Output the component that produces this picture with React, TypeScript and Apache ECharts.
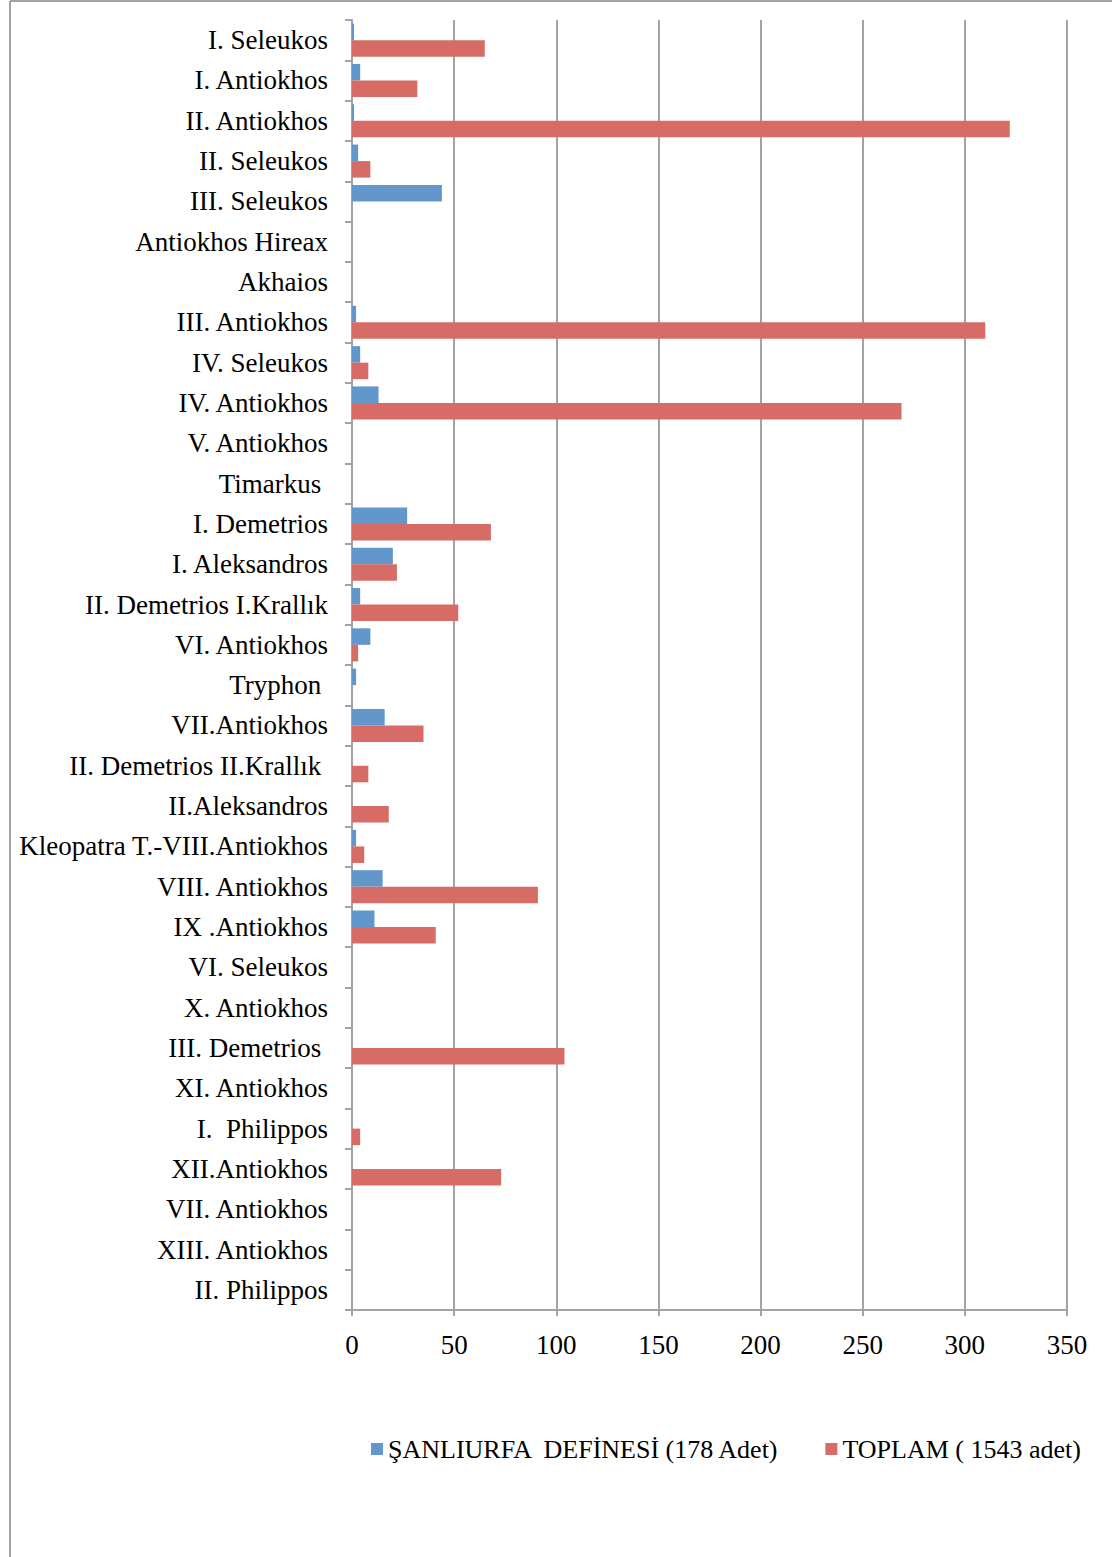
import React, { useEffect, useRef } from "react";
import * as echarts from "echarts";

const categories = [
  "I. Seleukos",
  "I. Antiokhos",
  "II. Antiokhos",
  "II. Seleukos",
  "III. Seleukos",
  "Antiokhos Hireax",
  "Akhaios",
  "III. Antiokhos",
  "IV. Seleukos",
  "IV. Antiokhos",
  "V. Antiokhos",
  "Timarkus ",
  "I. Demetrios",
  "I. Aleksandros",
  "II. Demetrios I.Krallık",
  "VI. Antiokhos",
  "Tryphon ",
  "VII.Antiokhos",
  "II. Demetrios II.Krallık ",
  "II.Aleksandros",
  "Kleopatra T.-VIII.Antiokhos",
  "VIII. Antiokhos",
  "IX .Antiokhos",
  "VI. Seleukos",
  "X. Antiokhos",
  "III. Demetrios ",
  "XI. Antiokhos",
  "I.  Philippos",
  "XII.Antiokhos",
  "VII. Antiokhos",
  "XIII. Antiokhos",
  "II. Philippos",
];

const sanliurfa = [1, 4, 1, 3, 44, 0, 0, 2, 4, 13, 0, 0, 27, 20, 4, 9, 2, 16, 0, 0, 2, 15, 11, 0, 0, 0, 0, 0, 0, 0, 0, 0];
const toplam = [65, 32, 322, 9, 0, 0, 0, 310, 8, 269, 0, 0, 68, 22, 52, 3, 0, 35, 8, 18, 6, 91, 41, 0, 0, 104, 0, 4, 73, 0, 0, 0];

const seriesNames = ["ŞANLIURFA  DEFİNESİ (178 Adet)", "TOPLAM ( 1543 adet)"];
const xTicks = { min: 0, max: 350, interval: 50 };

const FONT = "'Liberation Serif', serif";
const GRAY = "#a3a3a3";

export default function App() {
  const ref = useRef<HTMLDivElement>(null);
  useEffect(() => {
    if (!ref.current) return;
    const chart = echarts.init(ref.current, null, { renderer: "svg" });
    chart.setOption({
      animation: false,
      backgroundColor: "#ffffff",
      textStyle: { fontFamily: FONT },
      graphic: [
        { type: "line", shape: { x1: 10, y1: 1, x2: 1112, y2: 1 }, style: { stroke: GRAY, lineWidth: 2 } },
        { type: "line", shape: { x1: 10, y1: 1, x2: 10, y2: 1557 }, style: { stroke: GRAY, lineWidth: 2 } },
      ],
      grid: { left: 352, right: 45, top: 20, bottom: 247, containLabel: false },
      legend: {
        left: 366,
        top: 1431,
        itemWidth: 12,
        itemHeight: 12,
        itemGap: 45,
        icon: "rect",
        textStyle: { fontFamily: FONT, fontSize: 26, color: "#000" },
        data: seriesNames,
      },
      xAxis: {
        type: "value",
        min: xTicks.min,
        max: xTicks.max,
        interval: xTicks.interval,
        axisLine: { show: true, lineStyle: { color: GRAY, width: 2 } },
        axisTick: { show: true, length: 6, lineStyle: { color: GRAY, width: 2 } },
        splitLine: { show: true, lineStyle: { color: GRAY, width: 2 } },
        axisLabel: { fontFamily: FONT, fontSize: 27, color: "#000", margin: 21 },
      },
      yAxis: {
        type: "category",
        inverse: true,
        data: categories,
        axisLine: { show: true, lineStyle: { color: GRAY, width: 2 } },
        axisTick: { show: true, length: 7, lineStyle: { color: GRAY, width: 2 } },
        axisLabel: { fontFamily: FONT, fontSize: 27, color: "#000", margin: 24, padding: [5, 0, 0, 0] },
      },
      series: [
        {
          name: seriesNames[0],
          type: "bar",
          data: sanliurfa,
          barGap: "0%",
          barCategoryGap: "18%",
          itemStyle: { color: "#6297cb" },
        },
        {
          name: seriesNames[1],
          type: "bar",
          data: toplam,
          barGap: "0%",
          barCategoryGap: "18%",
          itemStyle: { color: "#d76c66" },
        },
      ],
    });
    return () => chart.dispose();
  }, []);
  return (
    <div
      ref={ref}
      style={{ position: "absolute", left: 0, top: 0, width: 1112, height: 1557 }}
    />
  );
}
